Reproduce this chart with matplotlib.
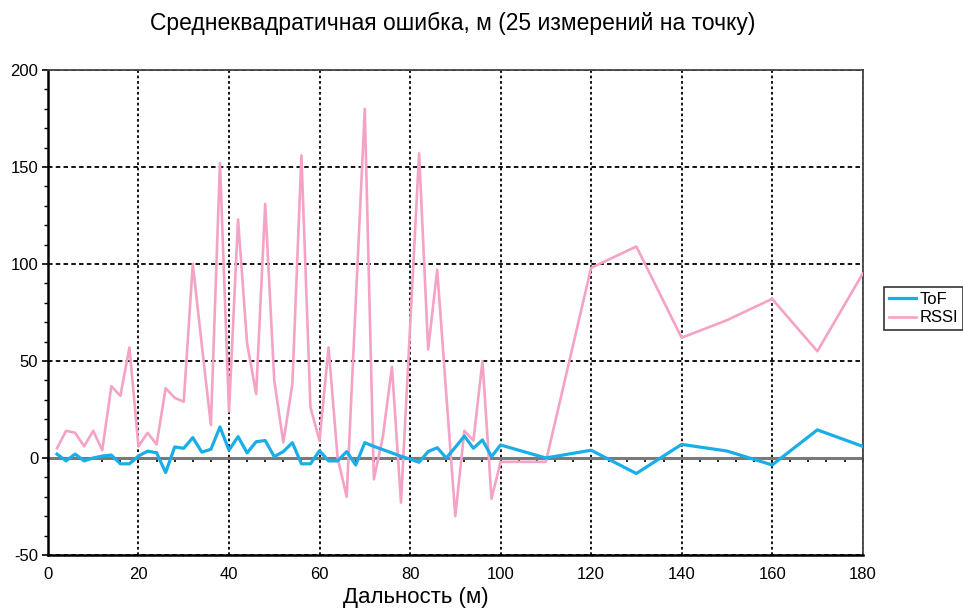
import matplotlib.pyplot as plt
from matplotlib.ticker import MultipleLocator

plt.rcParams['font.family'] = ['Liberation Sans', 'DejaVu Sans']
plt.rcParams['axes.unicode_minus'] = False

# distance, m
dist = [2, 4, 6, 8, 10, 12, 14, 16, 18, 20,
        22, 24, 26, 28, 30, 32, 34, 36, 38, 40,
        42, 44, 46, 48, 50, 52, 54, 56, 58, 60,
        62, 64, 66, 68, 70, 72, 74, 76, 78, 80,
        82, 84, 86, 88, 90, 92, 94, 96, 98, 100,
        110, 120, 130, 140, 150, 160, 170, 180]

tof = [2, -1.5, 2, -1.5, 0, 1, 1.5, -3, -3, 1,
       3.5, 2.7, -7.5, 5.7, 5, 10.5, 3, 4.5, 16, 4,
       11, 2.6, 8.4, 9, 0.7, 3.3, 7.9, -3, -3, 3.7,
       -1.5, -1.5, 3.3, -3.6, 7.9, 6, 4.3, 2.6, 0.9, -0.6,
       -2.2, 3.3, 5.3, 0, 5.5, 11.3, 5, 9.3, 0.7, 6.7,
       0, 4, -8, 7, 3.6, -3.6, 14.5, 6]

rssi = [5, 14, 13, 6, 14, 4, 37, 32, 57, 6,
        13, 7, 36, 31, 29, 100, 58, 17, 152, 24,
        123, 59, 33, 131, 40, 8, 38, 156, 26, 9,
        57, 0, -20, 80, 180, -11, 11, 47, -23, 67,
        157, 56, 97, 33, -30, 14, 9, 50, -21, -2,
        -2, 98, 109, 62, 71, 82, 55, 95]

fig = plt.figure(figsize=(9.63, 6.08), dpi=100)
ax = fig.add_axes([0.0498, 0.0872, 0.846, 0.7977])

ax.plot(dist, tof, color='#1aaee8', lw=2.3, label='ToF', zorder=4)
ax.plot(dist, rssi, color='#f4a3c6', lw=1.9, label='RSSI', zorder=3)

ax.set_xlim(0, 180)
ax.set_ylim(-50, 200)
ax.xaxis.set_major_locator(MultipleLocator(20))
ax.yaxis.set_major_locator(MultipleLocator(50))
ax.yaxis.set_minor_locator(MultipleLocator(10))

ax.grid(axis='x', color='black', linestyle=(0, (1.5, 1.5)), lw=1.3)
ax.grid(axis='y', color='black', linestyle=(0, (2.5, 1.8)), lw=1.3)

ax.tick_params(axis='x', length=0, pad=9, labelsize=12)
ax.tick_params(axis='y', which='major', length=4, width=1.2, direction='out', labelsize=12, pad=3)
ax.tick_params(axis='y', which='minor', length=3, width=1.0, direction='out')

for s in ['left', 'bottom']:
    ax.spines[s].set_linewidth(1.8)
    ax.spines[s].set_color('black')
for s in ['top', 'right']:
    ax.spines[s].set_linewidth(1.3)
    ax.spines[s].set_color('#444444')

# zero line with small ticks
ax.axhline(0, color='#7a7a7a', lw=2.2, zorder=2.5)
zero = ax.secondary_xaxis(0.2)
zero.set_xticks([])
zero.xaxis.set_minor_locator(MultipleLocator(4))
zero.tick_params(which='minor', length=3, width=1.2, direction='out', color='black')
zero.spines['bottom'].set_visible(False)

fig.text(0.47, 0.962, 'Среднеквадратичная ошибка, м (25 измерений на точку)',
         ha='center', va='center', fontsize=16.5)
ax.set_xlabel('Дальность (м)', fontsize=16, va='center')
ax.xaxis.set_label_coords((416 - 48) / 814, -0.087)

leg = fig.legend(loc='upper left', bbox_to_anchor=(884 / 963, 1 - 287 / 608),
                 fontsize=12, frameon=True, fancybox=False, borderpad=0.3,
                 handlelength=1.6, handletextpad=0.25, labelspacing=0.2,
                 borderaxespad=0)
leg.get_frame().set_edgecolor('black')
leg.get_frame().set_linewidth(1.2)

fig.savefig('out.png', dpi=100)
